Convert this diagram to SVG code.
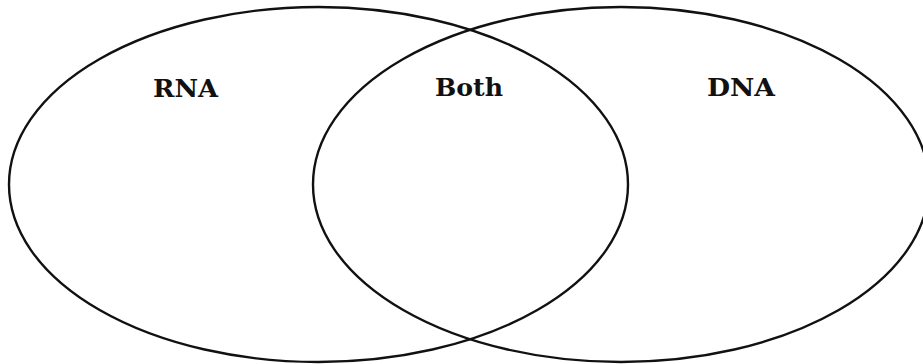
<svg xmlns="http://www.w3.org/2000/svg" width="923" height="364" viewBox="0 0 923 364">
<style>
.c{fill:none;stroke:#111;stroke-width:2.4}
.t{font-family:"DejaVu Serif","Liberation Serif",serif;font-weight:bold;font-size:24px;fill:#111;text-anchor:middle}
</style>
<rect width="923" height="364" fill="#fff"/>
<g id="rna">
<ellipse class="c" cx="318.5" cy="184.5" rx="309.5" ry="177.5"/>
<text class="t" x="185.5" y="97" textLength="65" lengthAdjust="spacingAndGlyphs">RNA</text>
</g>
<g id="dna">
<ellipse class="c" cx="621" cy="184.5" rx="308" ry="177.5"/>
<text class="t" x="741" y="96" textLength="68" lengthAdjust="spacingAndGlyphs">DNA</text>
</g>
<g id="both">
<text class="t" x="469" y="96" textLength="68" lengthAdjust="spacingAndGlyphs">Both</text>
</g>
<g id="connectors"></g>
</svg>
